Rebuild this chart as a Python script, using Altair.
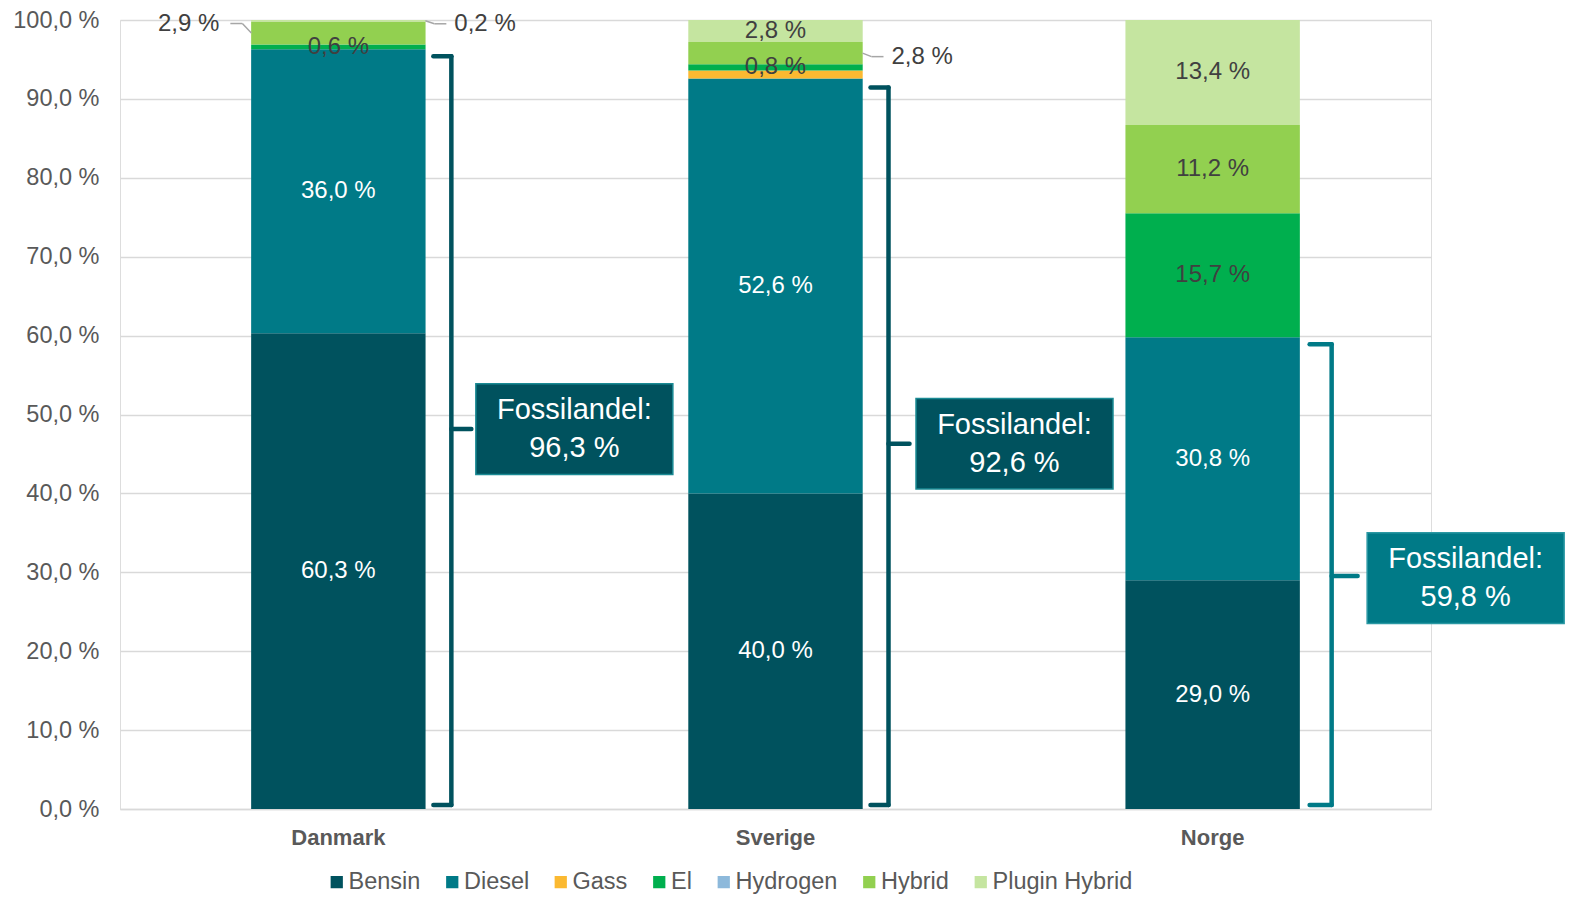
import altair as alt
import pandas as pd

countries = ["Danmark", "Sverige", "Norge"]
fuel_types = ["Bensin", "Diesel", "Gass", "El", "Hydrogen", "Hybrid", "Plugin Hybrid"]
bensin = [60.3, 40.0, 29.0]
diesel = [36.0, 52.6, 30.8]
gass = [0.0, 1.0, 0.0]
el = [0.6, 0.8, 15.7]
hydrogen = [0.0, 0.0, 0.0]
hybrid = [2.9, 2.8, 11.2]
plugin_hybrid = [0.2, 2.8, 13.4]
fuel_colors = ["#00525E", "#007A87", "#FBB931", "#00AF4E", "#8DB9DB", "#92D050", "#C5E5A0"]
y_ticks = [0, 10, 20, 30, 40, 50, 60, 70, 80, 90, 100]

series = [bensin, diesel, gass, el, hydrogen, hybrid, plugin_hybrid]
FONT = "Liberation Sans"


def fmt(v):
    return f"{v:.1f}".replace(".", ",") + " %"


rows = []
for ci, c in enumerate(countries):
    base = 0.0
    for t, s in zip(fuel_types, series):
        v = s[ci]
        rows.append(dict(country=c, type=t, value=v, y0=base, y1=base + v,
                         mid=base + v / 2, label=fmt(v)))
        base += v
seg = pd.DataFrame(rows)
seg = seg[seg.value > 0].reset_index(drop=True)

# label placement config: (country, type, side, pixel dy)
callouts = [("Danmark", "Hybrid", "left", -9.5),
            ("Danmark", "Plugin Hybrid", "right", 3),
            ("Sverige", "Hybrid", "right", 3.5)]
hidden_labels = [("Sverige", "Gass")]
skip = {(c, t) for c, t, _, _ in callouts} | set(hidden_labels)
inside = seg[[(c, t) not in skip for c, t in zip(seg.country, seg.type)]]

fossil = [b + d for b, d in zip(bensin, diesel)]
br = pd.DataFrame(dict(country=countries, fossil=fossil, half=[f / 2 for f in fossil],
                       zero=[0.0] * 3,
                       boxlabel=["Fossilandel:\n" + fmt(f) for f in fossil]))

x_axis = alt.Axis(title=None, labelFontSize=22, labelFontWeight="bold", labelColor="#595959",
                  labelFont=FONT, domain=True, domainColor="#D9D9D9", domainWidth=1.5,
                  ticks=False, labelPadding=18, labelAngle=0)
x_scale = alt.Scale(domain=countries, paddingInner=0.601, paddingOuter=0.3)
X = alt.X("country:N", sort=countries, scale=x_scale, axis=x_axis)

y_axis = alt.Axis(title=None, values=y_ticks, labelExpr="replace(format(datum.value, '.1f'), '.', ',') + ' %'",
                  labelFontSize=23.5, labelColor="#595959", labelFont=FONT, grid=True,
                  gridColor="#D9D9D9", gridWidth=1.5, domain=False, ticks=False, labelPadding=21)
y_scale = alt.Scale(domain=[0, 100], nice=False, clamp=True)


def Y(f):
    return alt.Y(f, scale=y_scale, axis=y_axis)


bars = alt.Chart(seg).mark_bar().encode(
    x=X, y=Y("y0:Q"), y2="y1:Q",
    color=alt.Color("type:N", scale=alt.Scale(domain=fuel_types, range=fuel_colors),
                    legend=alt.Legend(title=None, orient="none", legendX=205, legendY=850,
                                      direction="horizontal", symbolType="square", symbolSize=150,
                                      symbolStrokeWidth=0, labelFontSize=23.5, labelColor="#595959",
                                      labelFont=FONT, columnPadding=19.5, labelOffset=0, padding=0)))

labels = alt.Chart(inside).mark_text(font=FONT, fontSize=24, baseline="middle").encode(
    x=X, y=Y("mid:Q"), text="label:N",
    color=alt.condition(alt.FieldOneOfPredicate(field="type", oneOf=["Bensin", "Diesel"]),
                        alt.value("white"), alt.value("#404040")))

layers = [bars, labels]

for c, t, side, dy in callouts:
    s = -1 if side == "left" else 1
    d = seg[(seg.country == c) & (seg.type == t)]
    base = alt.Chart(d)
    layers.append(base.mark_rule(color="#A6A6A6", strokeWidth=1.5, xOffset=s * 87, x2Offset=s * 96,
                                 y2Offset=dy).encode(x=X, x2="country:N", y=Y("mid:Q"), y2="mid:Q"))
    layers.append(base.mark_rule(color="#A6A6A6", strokeWidth=1.5, xOffset=s * 96, x2Offset=s * 108,
                                 yOffset=dy).encode(x=X, x2="country:N", y=Y("mid:Q")))
    layers.append(base.mark_text(font=FONT, fontSize=24, color="#404040", baseline="middle",
                                 align="right" if s < 0 else "left",
                                 xOffset=s * (119 if s < 0 else 116),
                                 yOffset=dy).encode(x=X, y=Y("mid:Q"), text="label:N"))

# bracket style per country:
# vertical offset, top start, tick end, box centre, top dy, tick dy, box dy, fill, border
bstyle = {
    "Danmark": (113, 95, 133, 236, 7, 0, 0, "#00525E", "#1A8A94"),
    "Sverige": (113, 95, 134, 239, 9, 0, 0, "#00525E", "#1A8A94"),
    "Norge": (119, 97, 145, 253, 7, 3, 5, "#007A87", "#2A98A3"),
}
box_path = "M-1,-0.46L1,-0.46L1,0.46L-1,0.46Z"
for c in countries:
    vx, tx, kx, bx, tdy, kdy, bdy, col, bord = bstyle[c]
    d = br[br.country == c]
    base = alt.Chart(d)
    layers.append(base.mark_rule(color=col, strokeWidth=4.5, xOffset=vx, yOffset=-4, y2Offset=tdy,
                                 strokeCap="round").encode(x=X, y=Y("zero:Q"), y2="fossil:Q"))
    layers.append(base.mark_rule(color=col, strokeWidth=4.5, xOffset=tx, x2Offset=vx, yOffset=tdy,
                                 strokeCap="round").encode(x=X, x2="country:N", y=Y("fossil:Q")))
    layers.append(base.mark_rule(color=col, strokeWidth=4.5, xOffset=tx, x2Offset=vx, yOffset=-4,
                                 strokeCap="round").encode(x=X, x2="country:N", y=Y("zero:Q")))
    layers.append(base.mark_rule(color=col, strokeWidth=4.5, xOffset=vx, x2Offset=kx, yOffset=kdy,
                                 strokeCap="round").encode(x=X, x2="country:N", y=Y("half:Q")))
    layers.append(base.mark_point(shape=box_path, size=197 * 197, filled=True, fill=col, stroke=bord,
                                  strokeWidth=1.5, opacity=1, fillOpacity=1, xOffset=bx,
                                  yOffset=bdy).encode(x=X, y=Y("half:Q")))
    layers.append(base.mark_text(font=FONT, fontSize=29, lineHeight=38, color="white", align="center",
                                 baseline="middle", lineBreak="\n", xOffset=bx,
                                 yOffset=bdy - 19).encode(x=X, y=Y("half:Q"), text="boxlabel:N"))

chart = alt.layer(*layers).properties(
    width=1311, height=789,
    autosize=alt.AutoSizeParams(type="none"),
    padding={"left": 112, "top": 12, "right": 134, "bottom": 85},
).configure_view(stroke=None).configure(font=FONT)

chart.save("out.html", embed_options={"renderer": "svg", "actions": False})
